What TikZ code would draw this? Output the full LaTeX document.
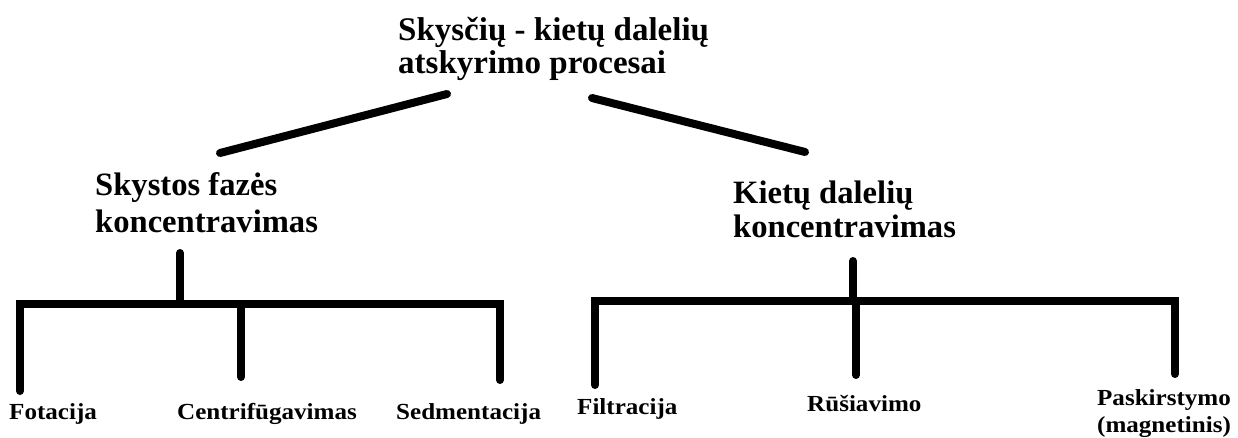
\documentclass[tikz,border=0pt]{standalone}
\usepackage{fontspec}
\usepackage{graphicx}
\setmainfont{Liberation Serif}
% two-line label whose baseline is the baseline of its first line
\newcommand\twoline[3][l]{\begin{tabular}[t]{@{}#1@{}}#2\\#3\end{tabular}}
% horizontally widened text
\newcommand\wide[2]{\scalebox{#1}[1]{#2}}
\begin{document}
\begin{tikzpicture}[x=1pt,y=-1pt,
  lbl/.style={inner sep=0pt, anchor=base west},
  head/.style={lbl, font=\fontsize{33}{32}\selectfont\bfseries},
  sub/.style={lbl, font=\fontsize{32.6}{35}\selectfont\bfseries},
  leaf/.style={lbl, font=\fontsize{23}{27}\selectfont\bfseries},
  branch/.style={line width=8pt, line cap=round, line join=miter}]
\useasboundingbox[fill=white] (0,0) rectangle (1238,438);

% headings
\node[head] (top) at (398,41) {\twoline{Skysčių - kietų dalelių}{atskyrimo procesai}};
\node[sub, font=\fontsize{32.6}{36.5}\selectfont\bfseries] (lmid) at (95,196)
  {\twoline{Skystos fazės}{koncentravimas}};
\node[sub, font=\fontsize{32.6}{34}\selectfont\bfseries] (rmid) at (733,204)
  {\twoline{Kietų dalelių}{koncentravimas}};

% leaves
\node[leaf] (fot) at (9,419) {\wide{1.09}{Fotacija}};
\node[leaf] (cen) at (177,419) {\wide{1.09}{Centrifūgavimas}};
\node[leaf] (sed) at (396,419) {\wide{1.09}{Sedmentacija}};
\node[leaf] (fil) at (577,414) {\wide{1.09}{Filtracija}};
\node[leaf] (rus) at (807,411) {\wide{1.09}{Rūšiavimo}};
\node[leaf, anchor=base] (pas) at (1164,405)
  {\wide{1.09}{\twoline[c]{Paskirstymo}{(magnetinis)}}};

% connector end points
\coordinate (tl) at (447,94);   \coordinate (ml) at (220,153);
\coordinate (tr) at (592,98);   \coordinate (mr) at (805,152);

\coordinate (ltrunk) at (180,253); \coordinate (lbar) at (180,304);
\coordinate (la) at (20,391);  \coordinate (lb) at (241,377); \coordinate (lc) at (500,380);

\coordinate (rtrunk) at (853,261); \coordinate (rbar) at (853,301);
\coordinate (ra) at (595,385); \coordinate (rb) at (856,375); \coordinate (rc) at (1175,374);

% top split
\draw[branch] (tl) -- (ml);
\draw[branch] (tr) -- (mr);

% left bracket
\draw[branch] (ltrunk) -- (lbar);
\draw[branch] (la) -- (la |- lbar) -- (lc |- lbar) -- (lc);
\draw[branch] (lb |- lbar) -- (lb);

% right bracket
\draw[branch] (rtrunk) -- (rbar);
\draw[branch] (ra) -- (ra |- rbar) -- (rc |- rbar) -- (rc);
\draw[branch] (rb |- rbar) -- (rb);
\end{tikzpicture}
\end{document}
